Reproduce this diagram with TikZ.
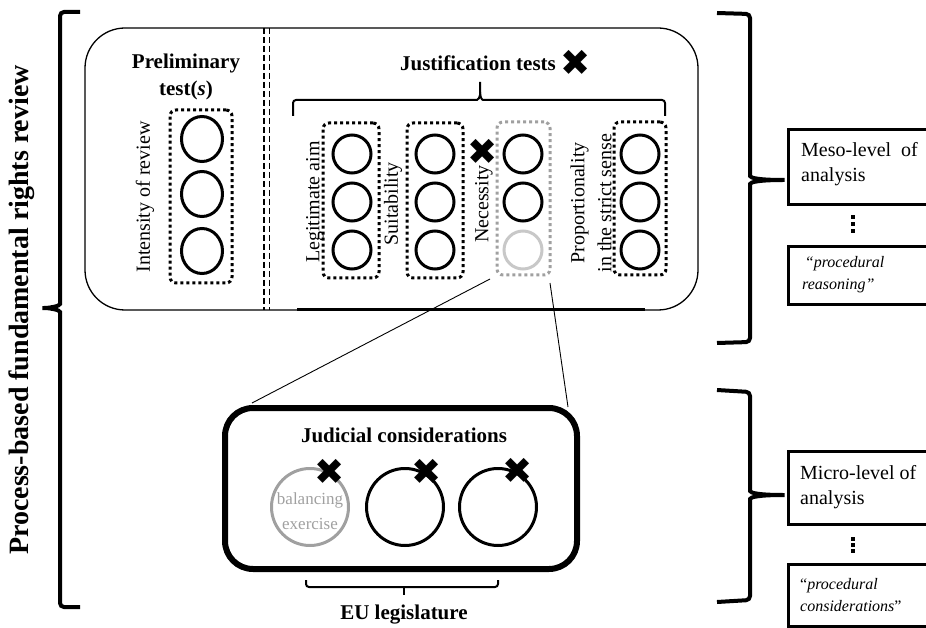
\documentclass[tikz,border=0pt]{standalone}
\usepackage{fontspec}
\setmainfont{Liberation Serif}
\newfontfamily\symf{DejaVu Sans}
\usetikzlibrary{shapes.geometric}
\definecolor{midgray}{HTML}{A0A0A0}
\definecolor{lightgr}{HTML}{C8C8C8}
\tikzset{
  bigbk/.style={line width=4, rounded corners=4},
  thinbk/.style={line width=2, rounded corners=3},
  dotbox/.style={draw, line width=3, dash pattern=on 3 off 3, rounded corners=6, inner sep=0},
  ring/.style={circle, draw, line width=3, minimum size=38, inner sep=0},
  oring/.style={ellipse, draw, line width=3, minimum width=41, minimum height=45, inner sep=0},
  bigring/.style={circle, draw, line width=3, minimum size=77, inner sep=0},
  xm/.style={font=\symf\fontsize{36}{36}\selectfont, inner sep=0},
  head/.style={font=\bfseries\fontsize{21}{27}\selectfont, align=center, inner sep=0},
  lab/.style={font=\fontsize{20}{27}\selectfont, align=center, inner sep=0, rotate=90},
  rbox/.style={draw, line width=3, anchor=north west, inner sep=0, minimum width=170},
  rtext/.style={font=\fontsize{20}{25}\selectfont, align=left, anchor=west, inner sep=0},
  itext/.style={font=\itshape\fontsize{16}{22}\selectfont, align=left, anchor=west, inner sep=0},
  conn/.style={line width=0.9},
}
\begin{document}
\begin{tikzpicture}[x=1pt,y=-1pt]
\useasboundingbox (0,0) rectangle (926,628);

% ---- left big bracket and title
\draw[bigbk] (80,12) -- (60,12) -- (60,300) .. controls (60,306) and (50,308) .. (40,308)
  .. controls (50,308) and (60,310) .. (60,316) -- (60,607) -- (80,607);
\node[font=\bfseries\fontsize{28}{28}\selectfont, rotate=90, inner sep=0] (title) at (22,310) {Process-based fundamental rights review};

% ---- main rounded box
\node[draw, line width=1.3, rounded corners=40, minimum width=613, minimum height=282, inner sep=0] (main) at (391.5,169) {};
\draw[line width=2.5] (297,309.5) -- (645,309.5);
\draw[line width=2.2, dash pattern=on 6 off 3] (264,28) -- (264,310);
\draw[line width=0.8, dash pattern=on 6 off 3] (269,28) -- (269,310);

% ---- preliminary test(s)
\node[head] (prelim) at (186,77) {Preliminary\\test(\textit{s})};
\node[lab] (intlab) at (145,197) {Intensity of review};
\node[dotbox, minimum width=62, minimum height=173] (intbox) at (201,196.5) {};
\node[oring] (i1) at (202,139) {};
\node[oring] (i2) at (202,194) {};
\node[oring] (i3) at (202,251) {};

% ---- justification tests
\node[head] (just) at (478,63) {Justification tests};
\node[xm] (xjust) at (576,63) {✖};
\draw[thinbk] (293,116) -- (293,100) -- (474,100) .. controls (478,100) and (480,97) .. (480,92) -- (480,82);
\draw[thinbk] (480,92) .. controls (480,97) and (482,100) .. (486,100) -- (665,100) -- (665,116);

% legitimate aim
\node[lab] (leglab) at (315,202) {Legitimate aim};
\node[dotbox, minimum width=56, minimum height=155] (legbox) at (351,200.5) {};
\node[ring] (l1) at (352,154) {};
\node[ring] (l2) at (352,202) {};
\node[ring] (l3) at (352,250) {};

% suitability
\node[lab] (suilab) at (393,204) {Suitability};
\node[dotbox, minimum width=56, minimum height=155] (suibox) at (435,200.5) {};
\node[ring] (s1) at (435,154) {};
\node[ring] (s2) at (435,202) {};
\node[ring] (s3) at (435,250) {};

% necessity
\node[lab] (neclab) at (484,204) {Necessity};
\node[xm] (xnec) at (483,152) {✖};
\node[dotbox, draw=midgray, minimum width=53, minimum height=153] (necbox) at (523.5,198.5) {};
\node[ring] (n1) at (523,154) {};
\node[ring] (n2) at (523,202) {};
\node[ring, draw=lightgr] (n3) at (523,250) {};

% proportionality
\node[lab] (prolab) at (591,203) {Proportionality\\in the strict sense};
\node[dotbox, minimum width=52, minimum height=153] (probox) at (640,198.5) {};
\node[ring] (p1) at (640,154) {};
\node[ring] (p2) at (640,202) {};
\node[ring] (p3) at (640,250) {};

% ---- judicial considerations box
\node[draw, line width=6, rounded corners=28, minimum width=352, minimum height=161, inner sep=0] (jud) at (401,488.5) {};
\node[head] (judt) at (404,435) {Judicial considerations};
\node[bigring, draw=midgray] (b1) at (310,507) {};
\node[font=\fontsize{17}{25}\selectfont, text=midgray, align=center, inner sep=0] (bal) at (310,511) {balancing\\exercise};
\node[bigring] (b2) at (405,507) {};
\node[bigring] (b3) at (498,507) {};
\node[xm] (x1) at (330,472) {✖};
\node[xm] (x2) at (427,472) {✖};
\node[xm] (x3) at (518,471) {✖};

% connectors from necessity to judicial box
\coordinate (c1) at (490,279);
\coordinate (c2) at (252,403);
\coordinate (c3) at (550,283);
\coordinate (c4) at (568,407);
\draw[conn] (c1) -- (c2);
\draw[conn] (c3) -- (c4);

% EU legislature brace
\draw[thinbk] (306,580) -- (306,587) -- (498,587) -- (498,580);
\draw[line width=2] (404,587) -- (404,595);
\node[head] (eu) at (404,615) {EU legislature};

% ---- meso level
\draw[bigbk] (717,13) -- (750,14) -- (750,172) .. controls (750,178) and (760,180) .. (787,180)
  .. controls (760,180) and (750,182) .. (750,188) -- (750,342) -- (717,343);
\node[rbox, minimum height=75] (meso) at (787,128) {};
\node[rtext] (mesot) at (801,164) {Meso-level\ \ of\\analysis};
\foreach \yy in {217,224,231} \fill (851,\yy-2) rectangle (855,\yy+2);
\node[rbox, minimum height=58] (proc1) at (787,245) {};
\node[itext] (proc1t) at (802,275) {\,“procedural\\reasoning”};

% ---- micro level
\draw[bigbk] (717,390) -- (750,392) -- (750,487) .. controls (750,493) and (760,495) .. (787,495)
  .. controls (760,495) and (750,497) .. (750,503) -- (750,600) -- (717,602);
\node[rbox, minimum height=73] (micro) at (787,450) {};
\node[rtext] (microt) at (800,487) {Micro-level of\\analysis};
\foreach \yy in {539,545,551} \fill (851,\yy-2) rectangle (855,\yy+2);
\node[rbox, minimum height=62] (proc2) at (787,563) {};
\node[itext] (proc2t) at (800,595) {\upshape“\itshape procedural\\considerations\upshape”};

\end{tikzpicture}
\end{document}
